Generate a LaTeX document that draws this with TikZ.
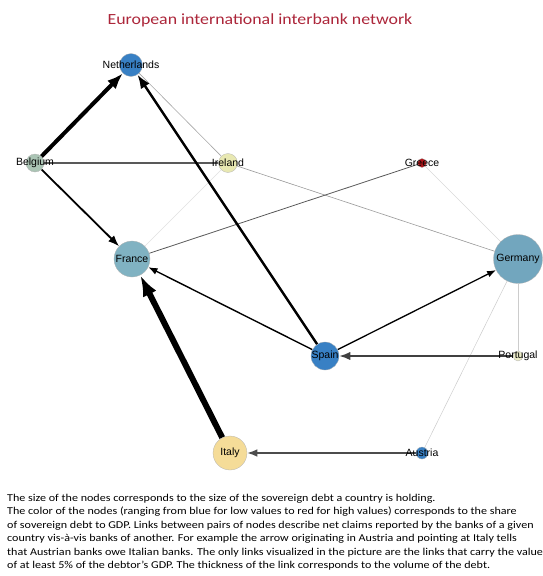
\documentclass[tikz,border=0pt]{standalone}
\usepackage{fontspec}
\setmainfont{Carlito}[FakeStretch=1.15]
\newfontfamily\lblfont{Liberation Sans}
\usetikzlibrary{arrows.meta,backgrounds}
\definecolor{titlered}{RGB}{172,38,58}
\definecolor{lowblue}{RGB}{56,128,196}
\definecolor{midteal}{RGB}{128,178,194}
\definecolor{germteal}{RGB}{114,166,190}
\definecolor{belgreen}{RGB}{170,196,180}
\definecolor{paleyel}{RGB}{232,232,178}
\definecolor{porpale}{RGB}{236,236,200}
\definecolor{greekred}{RGB}{176,22,26}
\definecolor{italyel}{RGB}{245,220,152}
\tikzset{
	country/.style={circle, draw=black!30, line width=0.3pt, inner sep=0pt, minimum size=#1},
	cname/.style={font=\lblfont\fontsize{10.5}{12}\selectfont, text=black, inner sep=0pt},
	claim/.style={-{Latex}}
}

\begin{document}
\begin{tikzpicture}[x=1pt, y=-1pt]
			%%%%% START %%%%%
			\useasboundingbox (0, 0) rectangle (543, 576);
			
			\node[anchor=base, font=\fontsize{15.5}{18}\selectfont, text=titlered] (title) at (260, 24) {European international interbank network};
			
			\node[country=23pt, fill=lowblue, label={[cname]center:Netherlands}] (netherlands) at (131, 65) {};
			\node[country=18pt, fill=belgreen, label={[cname]center:Belgium}] (belgium) at (35, 163) {};
			\node[country=19pt, fill=paleyel, label={[cname]center:Ireland}] (ireland) at (228, 163) {};
			\node[country=9pt, fill=greekred, label={[cname]center:Greece}] (greece) at (422, 163) {};
			\node[country=36pt, fill=midteal, label={[cname]center:France}] (france) at (132, 259) {};
			\node[country=49pt, fill=germteal, label={[cname]center:Germany}] (germany) at (518, 259) {};
			\node[country=28pt, fill=lowblue, label={[cname]center:Spain}] (spain) at (325, 356) {};
			\node[country=10pt, fill=porpale, label={[cname]center:Portugal}] (portugal) at (518, 356) {};
			\node[country=34pt, fill=italyel, label={[cname]center:Italy}] (italy) at (230, 453) {};
			\node[country=12pt, fill=lowblue, label={[cname]center:Austria}] (austria) at (422, 453) {};
			
			\begin{scope}[on background layer]
			% faint links
			\draw[line width=0.4pt, color=black!12] (france) -- (ireland);
			\draw[line width=0.5pt, color=black!15] (greece) -- (germany);
			\draw[line width=0.6pt, color=black!20] (germany) -- (portugal);
			\draw[line width=0.5pt, color=black!20] (germany) -- (austria);
			\draw[line width=0.6pt, color=black!35] (netherlands) -- (ireland);
			\draw[line width=0.6pt, color=black!40] (ireland) -- (germany);
			\draw[line width=0.8pt, color=black!65] (france) -- (greece);
			\draw[line width=1.8pt, color=black!65] (belgium) -- (ireland);
			
			% claims
			\draw[-{Latex[length=21pt, width=15pt]}, line width=6pt] (italy) -- (france);
			\draw[-{Latex[length=16pt, width=12pt]}, line width=4pt] (belgium) -- (netherlands);
			\draw[claim, line width=2.4pt] (spain) -- (netherlands);
			\draw[claim, line width=1.8pt] (belgium) -- (france);
			\draw[claim, line width=1.8pt, color=black!75] (portugal) -- (spain);
			\draw[claim, line width=1.6pt, color=black!70] (austria) -- (italy);
			\draw[claim, line width=1.4pt] (spain) -- (france);
			\draw[claim, line width=1.3pt] (spain) -- (germany);
			\end{scope}
			
			\node[anchor=north west, align=left, inner sep=0pt, font=\fontsize{10.5}{13.5}\selectfont] (caption) at (7, 494) {The size of the nodes corresponds to the size of the sovereign debt a country is holding.\\
The color of the nodes (ranging from blue for low values to red for high values) corresponds to the share\\
of sovereign debt to GDP. Links between pairs of nodes describe net claims reported by the banks of a given\\
country vis-à-vis banks of another. For example the arrow originating in Austria and pointing at Italy tells\\
that Austrian banks owe Italian banks. The only links visualized in the picture are the links that carry the value\\
of at least 5\% of the debtor's GDP. The thickness of the link corresponds to the volume of the debt.};
			
			%%%%% END %%%%%
\end{tikzpicture}
\end{document}
